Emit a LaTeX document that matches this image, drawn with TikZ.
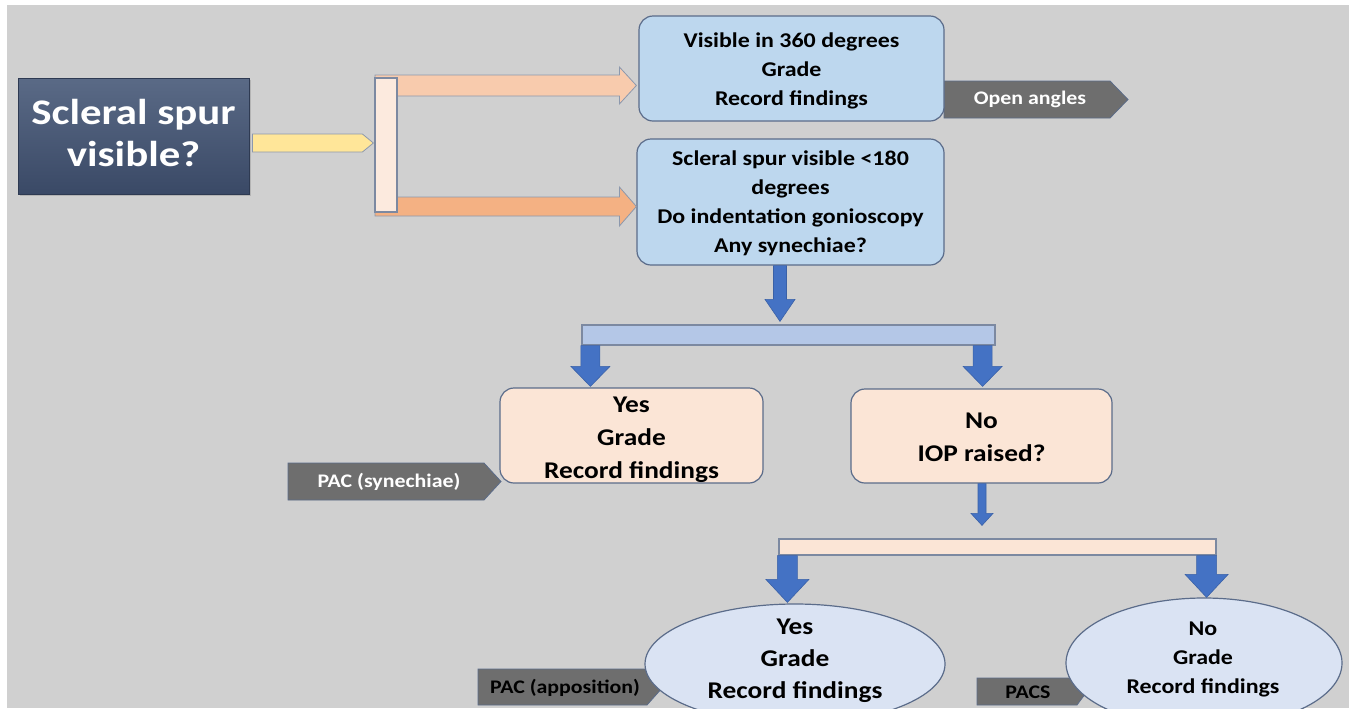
\documentclass[tikz,border=0pt]{standalone}
\usepackage{fontspec}
\setmainfont{Carlito}[FakeStretch=1.14]
\newfontfamily\titlefont{Carlito}[FakeStretch=1.19]
\usetikzlibrary{shapes.geometric,shadows,calc}
\definecolor{bg}{HTML}{D0D0D0}
\definecolor{qtop}{HTML}{5A6A86}
\definecolor{qbot}{HTML}{3A4966}
\definecolor{boxblue}{HTML}{BDD7EE}
\definecolor{boxedge}{HTML}{5B6C8A}
\definecolor{peach}{HTML}{FBE5D6}
\definecolor{ellfill}{HTML}{DAE3F3}
\definecolor{tagfill}{HTML}{6E6E6E}
\definecolor{arrblue}{HTML}{4472C4}
\definecolor{barblue}{HTML}{B4C7E7}
\definecolor{orlight}{HTML}{F8CBAD}
\definecolor{ordark}{HTML}{F4B183}
\definecolor{yel}{HTML}{FFE699}
\newcommand\dnblk[6][blkarr]{% style, start, tip, half shaft, half head, head length
  \filldraw[#1] let \p1=(#2), \p2=(#3) in
    (\x1-#4,\y1) -- (\x1+#4,\y1) -- (\x1+#4,\y2+#6) -- (\x1+#5,\y2+#6) -- (\x1,\y2)
    -- (\x1-#5,\y2+#6) -- (\x1-#4,\y2+#6) -- cycle;}
\newcommand\rtblk[6][blkarr]{% style, start, tip, half shaft, half head, head length
  \filldraw[#1] let \p1=(#2), \p2=(#3) in
    (\x1,\y1+#4) -- (\x2-#6,\y1+#4) -- (\x2-#6,\y1+#5) -- (\x2,\y1) -- (\x2-#6,\y1-#5)
    -- (\x2-#6,\y1-#4) -- (\x1,\y1-#4) -- cycle;}
\newcommand\tagp[5]{% x1, y1, xhead, xtip, y2
  \filldraw[tagshape] (#1,#2) -- (#3,#2) -- (#4,{(#2+#5)/2}) -- (#3,#5) -- (#1,#5) -- cycle;}
\newcommand\lowered[3]{\raisebox{#1}[0pt][0pt]{\parbox{#2}{\centering #3}}}
\tikzset{
  qbox/.style={rectangle, draw=qbot!80!black, top color=qtop, bottom color=qbot, text=white,
    font=\titlefont\fontsize{18}{22}\selectfont\bfseries, align=center, inner sep=0,
    minimum width=115.5pt, minimum height=58pt,
    drop shadow={opacity=0.35, shadow xshift=1.2pt, shadow yshift=-1.2pt}},
  bluebox/.style={rectangle, rounded corners=7pt, draw=boxedge, line width=0.6pt, fill=boxblue,
    font=\fontsize{10.5}{14.5}\selectfont\bfseries, align=center, inner sep=0},
  peachbox/.style={rectangle, rounded corners=7pt, draw=boxedge, line width=0.6pt, fill=peach,
    font=\fontsize{12}{16.5}\selectfont\bfseries, align=center, inner sep=0},
  ell/.style={ellipse, draw=boxedge, line width=0.6pt, fill=ellfill, inner sep=0},
  elltext/.style={align=center, inner sep=0},
  tagshape/.style={fill=tagfill, draw=boxedge, line width=0.4pt},
  tagtext/.style={font=\fontsize{9.6}{11}\selectfont\bfseries, inner sep=0},
  blkarr/.style={fill=arrblue, draw=arrblue!85!black, line width=0.3pt},
  barshape/.style={rectangle, inner sep=0, draw=boxedge!80, line width=0.6pt}
}
\begin{document}
\begin{tikzpicture}[x=0.5pt,y=-0.5pt]
\useasboundingbox (0,0) rectangle (1349,708);
\fill[white] (0,0) rectangle (1349,708);
\fill[bg] (7,5) rectangle (1349,708);

% tags (behind boxes)
\tagp{944}{81}{1110}{1128}{118}
\node[tagtext, text=white] (tOpen) at (1030,99.5) {Open angles};
\tagp{288}{463}{484}{501}{500}
\node[tagtext, text=white] (tSyn) at (389,482) {PAC (synechiae)};
\tagp{478}{669}{647}{663}{705}
\node[tagtext, text=black] (tApp) at (565,688) {PAC (apposition)};
\tagp{977}{678}{1077}{1087}{705}
\node[tagtext, text=black] (tPacs) at (1028,692) {PACS};

% main nodes
\node[qbox] (q) at (133.5,136) {\lowered{-2.7pt}{114pt}{Scleral spur\\[-1pt]visible?}};
\node[bluebox, minimum width=152.5pt, minimum height=52.5pt] (b1) at (791.5,68.5)
  {\lowered{-4pt}{150pt}{Visible in 360 degrees\\Grade\\Record findings}};
\node[bluebox, minimum width=153.5pt, minimum height=63pt] (b2) at (790.5,202)
  {\lowered{-3.3pt}{150pt}{Scleral spur visible <180\\degrees\\Do indentation gonioscopy\\Any synechiae?}};
\node[peachbox, minimum width=131.5pt, minimum height=47.5pt] (yes) at (631.5,435.5)
  {\lowered{-5pt}{130pt}{Yes\\Grade\\Record findings}};
\node[peachbox, minimum width=130.5pt, minimum height=47pt] (no) at (981.5,436)
  {\lowered{-3.75pt}{128pt}{No\\IOP raised?}};
\node[ell, minimum width=150pt, minimum height=60pt] (e1) at (795,664) {};
\node[elltext, font=\fontsize{12}{16}\selectfont\bfseries] (e1t) at (795,661) {Yes\\Grade\\Record findings};
\node[ell, minimum width=138pt, minimum height=65pt] (e2) at (1204,663) {};
\node[elltext, font=\fontsize{10.5}{14.5}\selectfont\bfseries] (e2t) at (1203,659) {No\\Grade\\Record findings};

% horizontal orange arrows (under the bar)
\rtblk[fill=orlight, draw=boxedge!70, line width=0.4pt]{$(375,85.5)$}{$(b1.west)+(-2,0)$}{5.25pt}{9.25pt}{8.5pt}
\rtblk[fill=ordark, draw=boxedge!70, line width=0.4pt]{$(375,206.5)$}{b2.west}{4.75pt}{9.75pt}{8.5pt}

% bars
\node[barshape, fill=peach!80!white, minimum width=11pt, minimum height=67pt] (vbar) at (386,145) {};
\node[barshape, fill=barblue, minimum width=206.5pt, minimum height=10pt] (hbar1) at (788.5,335) {};
\node[barshape, fill=peach, minimum width=218.5pt, minimum height=8pt] (hbar2) at (997.5,547) {};

% yellow arrow
\rtblk[fill=yel, draw=boxedge!70, line width=0.4pt]{$(q.east)+(3,7)$}{$(vbar.west)+(-1,7)$}{4.5pt}{4.5pt}{5.5pt}

% blue down arrows
\dnblk{$(b2.south)+(-10.5,0)$}{$(hbar1.north)+(0,-3)$}{3.25pt}{7.5pt}{11pt}
\dnblk{$(hbar1.south west)+(9,0)$}{$(yes.north)+(0,-1)$}{4.75pt}{9.75pt}{10pt}
\dnblk{$(hbar1.south east)+(-13,0)$}{$(no.north)+(0,-2)$}{4.75pt}{9.75pt}{10pt}
\dnblk{$(no.south)+(0.5,0)$}{$(hbar2.north)+(0,-13)$}{2pt}{5.5pt}{6pt}
\dnblk{$(hbar2.south west)+(9,0)$}{$(e1.north)+(0,-1)$}{5pt}{10.75pt}{11.5pt}
\dnblk{$(hbar2.south east)+(-10,0)$}{e2.north}{5pt}{10.75pt}{11.5pt}
\end{tikzpicture}
\end{document}
